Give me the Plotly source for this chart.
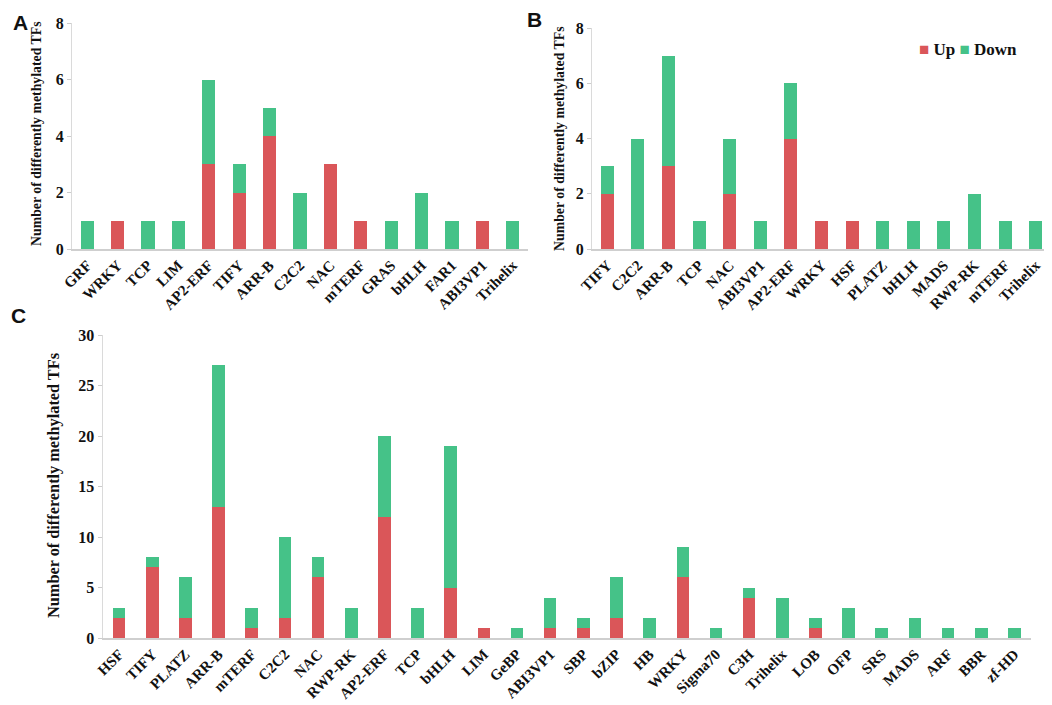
import plotly.graph_objects as go

# Panel A
cats_a = ["GRF", "WRKY", "TCP", "LIM", "AP2-ERF", "TIFY", "ARR-B", "C2C2", "NAC",
          "mTERF", "GRAS", "bHLH", "FAR1", "ABI3VP1", "Trihelix"]
up_a = [0, 1, 0, 0, 3, 2, 4, 0, 3, 1, 0, 0, 0, 1, 0]
down_a = [1, 0, 1, 1, 3, 1, 1, 2, 0, 0, 1, 2, 1, 0, 1]

# Panel B
cats_b = ["TIFY", "C2C2", "ARR-B", "TCP", "NAC", "ABI3VP1", "AP2-ERF", "WRKY", "HSF",
          "PLATZ", "bHLH", "MADS", "RWP-RK", "mTERF", "Trihelix"]
up_b = [2, 0, 3, 0, 2, 0, 4, 1, 1, 0, 0, 0, 0, 0, 0]
down_b = [1, 4, 4, 1, 2, 1, 2, 0, 0, 1, 1, 1, 2, 1, 1]

# Panel C
cats_c = ["HSF", "TIFY", "PLATZ", "ARR-B", "mTERF", "C2C2", "NAC", "RWP-RK", "AP2-ERF",
          "TCP", "bHLH", "LIM", "GeBP", "ABI3VP1", "SBP", "bZIP", "HB", "WRKY",
          "Sigma70", "C3H", "Trihelix", "LOB", "OFP", "SRS", "MADS", "ARF", "BBR", "zf-HD"]
up_c = [2, 7, 2, 13, 1, 2, 6, 0, 12, 0, 5, 1, 0, 1, 1, 2, 0, 6, 0, 4, 0, 1, 0, 0, 0, 0, 0, 0]
down_c = [1, 1, 4, 14, 2, 8, 2, 3, 8, 3, 14, 0, 1, 3, 1, 4, 2, 3, 1, 1, 4, 1, 3, 1, 2, 1, 1, 1]

series_names = ["Up", "Down"]

UP_COLOR = "#da5659"
DOWN_COLOR = "#45c288"
SERIF = "Liberation Serif, Times New Roman, serif"
W, H = 1052, 705

fig = go.Figure()

panels = [
    (cats_a, up_a, down_a, "x", "y", 0.43),
    (cats_b, up_b, down_b, "x2", "y2", 0.43),
    (cats_c, up_c, down_c, "x3", "y3", 0.38),
]
for cats, up, down, xa, ya, w in panels:
    fig.add_trace(go.Bar(x=cats, y=up, name=series_names[0], marker_color=UP_COLOR, width=w,
                         xaxis=xa, yaxis=ya, showlegend=False, marker_line_width=0))
    fig.add_trace(go.Bar(x=cats, y=down, name=series_names[1], marker_color=DOWN_COLOR, width=w,
                         xaxis=xa, yaxis=ya, showlegend=False, marker_line_width=0))

def px_x(p):
    return p / W

def px_y(p):
    return 1 - p / H

xcommon = dict(showgrid=False, showline=True, linecolor="#cfcfcf", linewidth=1.5,
               ticks="", tickangle=-45, automargin=False,
               tickfont=dict(family=SERIF, size=15, color="#111", weight="bold"))
ycommon = dict(showgrid=False, showline=True, linecolor="#dadada", linewidth=1,
               ticks="outside", ticklen=4, tickcolor="#cccccc", zeroline=False,
               automargin=False,
               tickfont=dict(family=SERIF, size=16, color="#111", weight="bold"))

fig.update_layout(
    width=W, height=H,
    margin=dict(l=0, r=0, t=0, b=0, autoexpand=False),
    paper_bgcolor="white", plot_bgcolor="white",
    barmode="stack",
    showlegend=False,
    xaxis=dict(domain=[px_x(64), px_x(520)], anchor="y", **xcommon),
    yaxis=dict(domain=[px_y(241), px_y(15)], anchor="x", range=[0, 8], dtick=2, **ycommon),
    xaxis2=dict(domain=[px_x(584), px_x(1043)], anchor="y2", **xcommon),
    yaxis2=dict(domain=[px_y(241), px_y(20)], anchor="x2", range=[0, 8], dtick=2, **ycommon),
    xaxis3=dict(domain=[px_x(94.5), px_x(1023)], anchor="y3", **xcommon),
    yaxis3=dict(domain=[px_y(630), px_y(327)], anchor="x3", range=[0, 30], dtick=5, **ycommon),
)

ytitle = "Number of differently methylated TFs"
annotations = [
    dict(text=ytitle, x=px_x(28), y=px_y(126), size=13.8),
    dict(text=ytitle, x=px_x(552), y=px_y(131), size=13.8),
    dict(text=ytitle, x=px_x(45), y=px_y(478), size=16.3),
]
for a in annotations:
    fig.add_annotation(text=a["text"], x=a["x"], y=a["y"], xref="paper", yref="paper",
                       textangle=-90, showarrow=False,
                       xanchor="center", yanchor="middle",
                       font=dict(family=SERIF, size=a["size"], color="#111", weight="bold"))

for letter, lx, ly in [("A", 12, 14), ("B", 526, 11), ("C", 10, 307)]:
    fig.add_annotation(text=letter, x=px_x(lx), y=px_y(ly), xref="paper", yref="paper",
                       showarrow=False, xanchor="center", yanchor="middle",
                       font=dict(family="Liberation Sans, Arial, sans-serif", size=21,
                                 color="#111", weight="bold"))

# Legend (panel B)
legend_text = (f'<span style="color:{UP_COLOR}">■</span> {series_names[0]} '
               f'<span style="color:{DOWN_COLOR}">■</span> {series_names[1]}')
fig.add_annotation(text=legend_text, x=px_x(909), y=px_y(42), xref="paper", yref="paper",
                   showarrow=False, xanchor="left", yanchor="middle",
                   font=dict(family=SERIF, size=17, color="#111", weight="bold"))

fig.write_html("out.html")
